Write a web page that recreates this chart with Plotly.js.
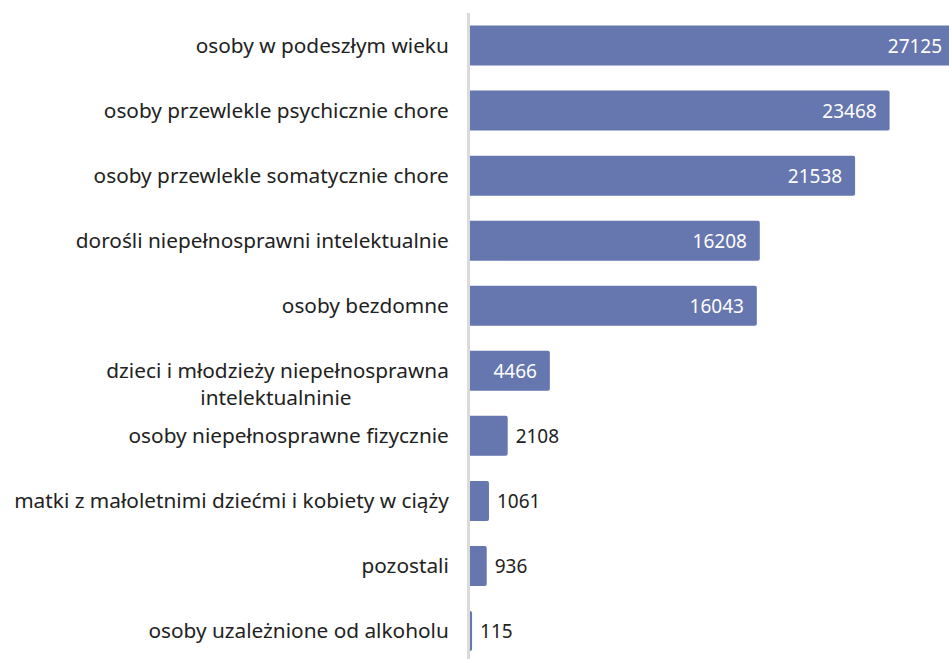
<!DOCTYPE html>
<html>
<head>
<meta charset="utf-8">
<script src="https://cdn.plot.ly/plotly-3.0.1.min.js"></script>
<style>html,body{margin:0;padding:0;overflow:hidden;background:#fff;}</style>
</head>
<body>
<div id="chart" style="width:949px;height:659px;"></div>
<script>
const categories = [
  "osoby w podeszłym wieku",
  "osoby przewlekle psychicznie chore",
  "osoby przewlekle somatycznie chore",
  "dorośli niepełnosprawni intelektualnie",
  "osoby bezdomne",
  "&nbsp;<br>dzieci i młodzieży niepełnosprawna<br>intelektualninie" + "&nbsp;".repeat(18),
  "osoby niepełnosprawne fizycznie",
  "matki z małoletnimi dziećmi i kobiety w ciąży",
  "pozostali",
  "osoby uzależnione od alkoholu"
];
const values = [27125, 23468, 21538, 16208, 16043, 4466, 2108, 1061, 936, 115];
const labelPositions = ["inside", "inside", "inside", "inside", "inside", "inside", "outside", "outside", "outside", "outside"];

const NB = "\u00a0";
const FONT = "Noto Sans, sans-serif";
const trace = {
  type: "bar",
  orientation: "h",
  y: categories,
  x: values,
  text: values.map((v, i) => labelPositions[i] === "inside" ? v + NB + NB : NB + v),
  textposition: labelPositions,
  insidetextanchor: "end",
  textangle: 0,
  constraintext: "none",
  insidetextfont: {family: FONT, size: 19, color: "#ffffff"},
  outsidetextfont: {family: FONT, size: 19, color: "#222222"},
  marker: {color: "#6676ae", cornerradius: 2},
  width: 0.615,
  hoverinfo: "none",
  cliponaxis: true
};

const layout = {
  width: 949, height: 659,
  margin: {l: 470, r: 0, t: 13, b: 0, pad: 0},
  paper_bgcolor: "#ffffff", plot_bgcolor: "#ffffff",
  showlegend: false,
  font: {family: FONT, size: 20.8, color: "#222222"},
  xaxis: {range: [0, 26790], showgrid: false, zeroline: false, showticklabels: false, showline: false, fixedrange: true},
  yaxis: {
    type: "category",
    range: [9.43, -0.5],
    showline: true, linecolor: "#dadada", linewidth: 3,
    ticks: "", showgrid: false, zeroline: false,
    ticklabelstandoff: 14,
    tickfont: {family: FONT, size: 20.8, color: "#222222"},
    fixedrange: true
  },
  hovermode: false
};

Plotly.newPlot("chart", [trace], layout, {displayModeBar: false, staticPlot: true});
</script>
</body>
</html>
